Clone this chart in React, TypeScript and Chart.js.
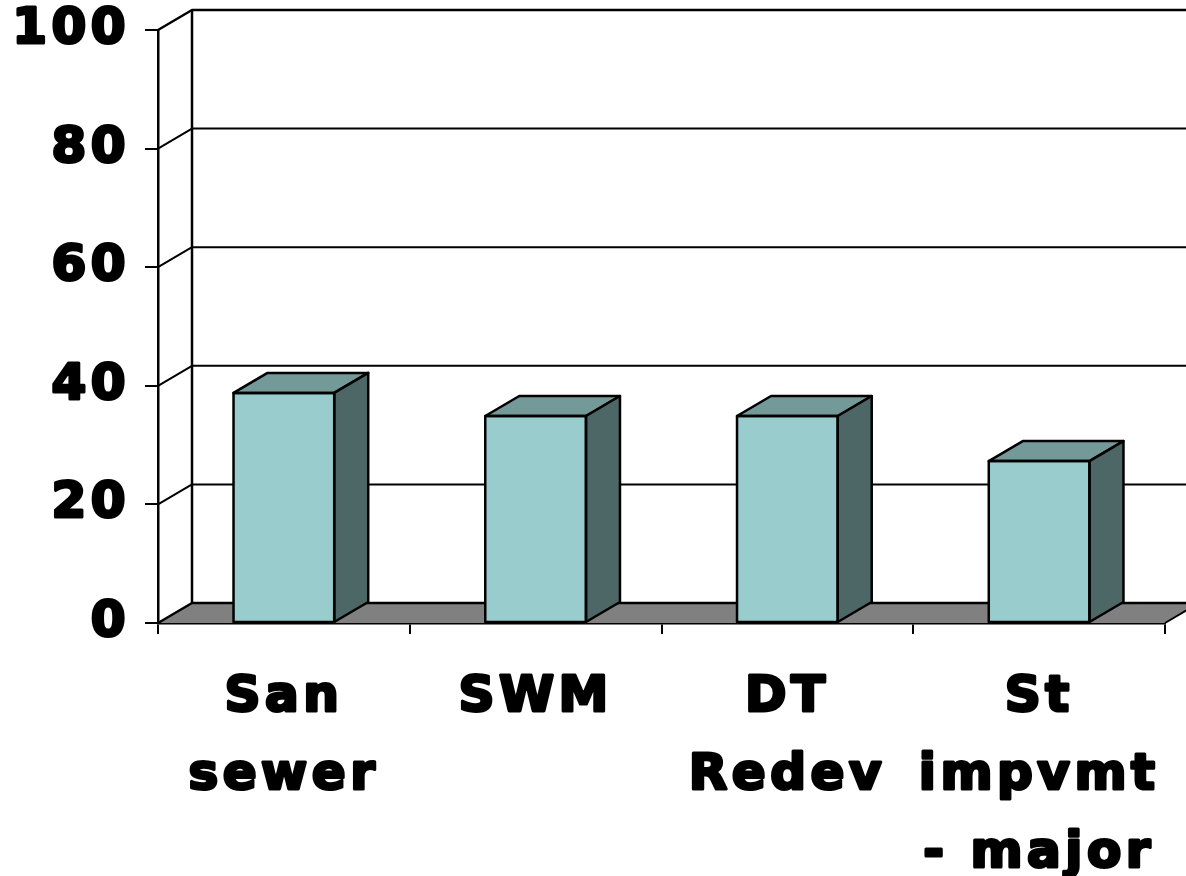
import React, { useEffect, useRef } from "react";
import { Chart, registerables } from "chart.js";

Chart.register(...registerables);

const categories = [["San", "sewer"], ["SWM"], ["DT", "Redev"], ["St", "impvmt", "- major"]];
const seriesValues = [38.8, 34.9, 34.9, 27.3];
const yMax = 100;
const yStep = 20;

const DEPTH_X = 34;
const DEPTH_Y = 20;

const wallPlugin = {
  id: "wall3d",
  beforeDraw(chart: any) {
    chart.ctx.letterSpacing = "4.5px";
    chart.ctx.lineJoin = "round";
  },
  beforeDatasetsDraw(chart: any) {
    const { ctx, chartArea, scales } = chart;
    const { left, right, bottom } = chartArea;
    const w = chart.width;
    ctx.save();
    ctx.letterSpacing = "0px";
    // floor
    ctx.fillStyle = "#808080";
    ctx.beginPath();
    ctx.moveTo(left, bottom);
    ctx.lineTo(left + DEPTH_X, bottom - DEPTH_Y);
    ctx.lineTo(right + DEPTH_X, bottom - DEPTH_Y);
    ctx.lineTo(right, bottom);
    ctx.closePath();
    ctx.fill();
    ctx.strokeStyle = "#000";
    ctx.lineWidth = 2;
    ctx.beginPath();
    ctx.moveTo(right, bottom);
    ctx.lineTo(right + DEPTH_X, bottom - DEPTH_Y);
    ctx.stroke();
    // grid on back wall and side wall
    scales.y.ticks.forEach((t: any) => {
      const y = scales.y.getPixelForValue(t.value);
      ctx.lineWidth = t.value === yMax || t.value === 0 ? 2.5 : 2;
      ctx.beginPath();
      ctx.moveTo(left, y);
      ctx.lineTo(left + DEPTH_X, y - DEPTH_Y);
      ctx.lineTo(w, y - DEPTH_Y);
      ctx.stroke();
    });
    // back wall left edge
    ctx.lineWidth = 2.5;
    ctx.beginPath();
    ctx.moveTo(left + DEPTH_X, scales.y.getPixelForValue(yMax) - DEPTH_Y);
    ctx.lineTo(left + DEPTH_X, bottom - DEPTH_Y);
    ctx.stroke();
    ctx.restore();
  },
  afterDatasetsDraw(chart: any) {
    const { ctx } = chart;
    const bars = chart.getDatasetMeta(0).data;
    ctx.save();
    ctx.strokeStyle = "#000";
    ctx.lineWidth = 2.5;
    ctx.lineJoin = "round";
    bars.forEach((b: any) => {
      const { x, y, base, width } = b.getProps(["x", "y", "base", "width"], true);
      const l = x - width / 2;
      const r = x + width / 2;
      // top face
      ctx.fillStyle = "#739999";
      ctx.beginPath();
      ctx.moveTo(l, y);
      ctx.lineTo(l + DEPTH_X, y - DEPTH_Y);
      ctx.lineTo(r + DEPTH_X, y - DEPTH_Y);
      ctx.lineTo(r, y);
      ctx.closePath();
      ctx.fill();
      ctx.stroke();
      // side face
      ctx.fillStyle = "#4D6666";
      ctx.beginPath();
      ctx.moveTo(r, y);
      ctx.lineTo(r + DEPTH_X, y - DEPTH_Y);
      ctx.lineTo(r + DEPTH_X, base - DEPTH_Y);
      ctx.lineTo(r, base);
      ctx.closePath();
      ctx.fill();
      ctx.stroke();
      // front outline
      ctx.strokeRect(l, y, width, base - y);
    });
    ctx.restore();
  },
};

export default function App() {
  const ref = useRef<HTMLCanvasElement>(null);
  useEffect(() => {
    const labelFont = { family: "'DejaVu Sans'", weight: "bold", size: 50 } as any;
    const chart = new Chart(ref.current!, {
      type: "bar",
      data: {
        labels: categories as any,
        datasets: [
          {
            data: seriesValues,
            backgroundColor: "#99CCCC",
            borderWidth: 0,
            barPercentage: 0.4,
            categoryPercentage: 1,
          },
        ],
      },
      plugins: [wallPlugin as any],
      options: {
        responsive: false,
        animation: false,
        layout: { padding: { top: 30, right: 21, left: 0, bottom: 0 } },
        plugins: { legend: { display: false }, tooltip: { enabled: false }, title: { display: false } },
        scales: {
          x: {
            afterFit: (s: any) => { s.height = 253; },
            grid: { drawOnChartArea: false, drawTicks: true, tickLength: 11, color: "#000", lineWidth: 2 },
            border: { display: true, color: "#000", width: 2.5 },
            ticks: {
              autoSkip: false,
              maxRotation: 0,
              minRotation: 0,
              color: "#000",
              padding: 25,
              textStrokeColor: "#000",
              textStrokeWidth: 3,
              font: { ...labelFont, lineHeight: 78 / 50 },
            },
          },
          y: {
            min: 0,
            max: yMax,
            afterFit: (s: any) => {
              s.width = 158;
              s.paddingTop = 0;
              s.paddingBottom = 0;
            },
            grid: { drawOnChartArea: false, drawTicks: true, tickLength: 13, color: "#000", lineWidth: 2 },
            border: { display: true, color: "#000", width: 2.5 },
            ticks: {
              stepSize: yStep,
              color: "#000",
              padding: 15,
              textStrokeColor: "#000",
              textStrokeWidth: 3,
              font: labelFont,
            },
          },
        },
      },
    });
    return () => chart.destroy();
  }, []);
  return (
    <canvas
      ref={ref}
      width={1186}
      height={876}
      style={{ position: "absolute", left: 0, top: 0, display: "block", background: "#fff" }}
    />
  );
}
